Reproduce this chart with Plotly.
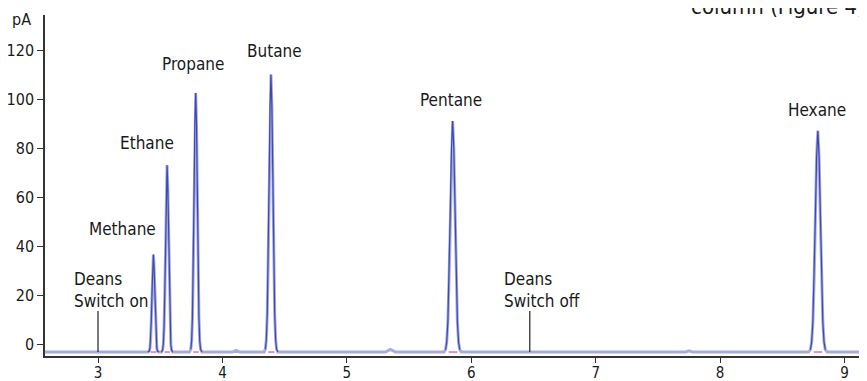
import plotly.graph_objects as go

# ---- data ----
time_min = [2.55,
            3.40, 3.412, 3.4175, 3.423, 3.4285, 3.434, 3.4395, 3.445, 3.4505, 3.456, 3.4615, 3.467, 3.4725, 3.478, 3.49,
            3.51, 3.519, 3.525, 3.531, 3.537, 3.543, 3.549, 3.555, 3.561, 3.567, 3.573, 3.579, 3.585, 3.591, 3.60,
            3.735, 3.746, 3.7525, 3.759, 3.7655, 3.772, 3.7785, 3.785, 3.7915, 3.798, 3.8045, 3.811, 3.8175, 3.824, 3.835,
            4.08, 4.11, 4.14,
            4.335, 4.345, 4.3525, 4.36, 4.3675, 4.375, 4.3825, 4.39, 4.3975, 4.405, 4.4125, 4.42, 4.4275, 4.435, 4.445,
            5.31, 5.35, 5.39,
            5.78, 5.793, 5.8025, 5.812, 5.8215, 5.831, 5.8405, 5.85, 5.8595, 5.869, 5.8785, 5.888, 5.8975, 5.907, 5.92,
            7.72, 7.75, 7.78,
            8.71, 8.725, 8.735, 8.745, 8.755, 8.765, 8.775, 8.785, 8.795, 8.805, 8.815, 8.825, 8.835, 8.845, 8.86,
            9.25]
signal_pA = [-3.3,
             -3.3, -2.9, -1.6, 2.1, 9.6, 21.0, 31.8, 36.5, 31.8, 21.0, 9.6, 2.1, -1.6, -2.9, -3.3,
             -3.3, -2.5, 0.0, 7.0, 21.5, 43.2, 64.0, 73, 64.0, 43.2, 21.5, 7.0, 0.0, -2.5, -3.3,
             -3.3, -2.1, 1.3, 11.0, 31.1, 61.2, 90.1, 102.5, 90.1, 61.2, 31.1, 11.0, 1.3, -2.1, -3.3,
             -3.3, -2.6, -3.3,
             -3.3, -2.1, 1.7, 12.0, 33.5, 65.8, 96.7, 110, 96.7, 65.8, 33.5, 12.0, 1.7, -2.1, -3.3,
             -3.3, -2.2, -3.3,
             -3.3, -2.3, 0.8, 9.4, 27.3, 54.2, 79.9, 91, 79.9, 54.2, 27.3, 9.4, 0.8, -2.3, -3.3,
             -3.3, -2.8, -3.3,
             -3.3, -2.3, 0.7, 8.9, 26.0, 51.8, 76.4, 87, 76.4, 51.8, 26.0, 8.9, 0.7, -2.3, -3.3,
             -3.3]

peak_names = ["Methane", "Ethane", "Propane", "Butane", "Pentane", "Hexane"]
label_x = [3.20, 3.39, 3.76, 4.42, 5.84, 8.78]
label_y = [46.9, 82.0, 114.3, 119.6, 99.6, 95.5]
peak_starts = [3.425, 3.535, 3.765, 4.368, 5.818, 8.752]
peak_ends = [3.468, 3.578, 3.81, 4.418, 5.888, 8.82]
baseline_pA = -3.3

switch_times = [3.0, 6.47]
switch_label_x = [2.79, 6.25]
switch_label_y = 22.0
switch_labels = ["Deans<br>Switch on", "Deans<br>Switch off"]
switch_marker_top = 13.5

x_ticks = [3, 4, 5, 6, 7, 8, 9]
y_ticks = [0, 20, 40, 60, 80, 100, 120]

FONT = "DejaVu Sans Condensed, Liberation Sans, sans-serif"

fig = go.Figure()

# light halo of the trace
fig.add_trace(go.Scatter(x=time_min, y=signal_pA, mode="lines",
                         line=dict(color="#a9abdf", width=3),
                         hoverinfo="skip", showlegend=False))

# darker core only on peaks
px, py = [], []
for s, e in zip(peak_starts, peak_ends):
    for t, v in zip(time_min, signal_pA):
        if s - 0.03 <= t <= e + 0.03:
            px.append(t)
            py.append(v)
    px.append(None)
    py.append(None)
fig.add_trace(go.Scatter(x=px, y=py, mode="lines",
                         line=dict(color="#3b49b0", width=1.2),
                         hoverinfo="skip", showlegend=False))

# pink integration baselines
ix, iy = [], []
for s, e in zip(peak_starts, peak_ends):
    ix += [s, e, None]
    iy += [baseline_pA, baseline_pA, None]
fig.add_trace(go.Scatter(x=ix, y=iy, mode="lines",
                         line=dict(color="#e98fb5", width=2),
                         hoverinfo="skip", showlegend=False))

# peak labels
for name, lx, ly in zip(peak_names, label_x, label_y):
    fig.add_annotation(x=lx, y=ly, text=name, showarrow=False,
                       xanchor="center", yanchor="middle",
                       font=dict(family=FONT, size=17, color="#1a1a1a"))

# Deans switch markers
for t, lx, lab in zip(switch_times, switch_label_x, switch_labels):
    fig.add_shape(type="line", x0=t, x1=t, y0=baseline_pA, y1=switch_marker_top,
                  line=dict(color="#222222", width=1.2))
    fig.add_annotation(x=lx, y=switch_label_y, text=lab, showarrow=False,
                       xanchor="left", yanchor="middle", align="left",
                       font=dict(family=FONT, size=17, color="#1a1a1a"))

# unit label
fig.add_annotation(x=0, xref="paper", xshift=-12, y=132.3, yref="y",
                   text="pA", showarrow=False, xanchor="right", yanchor="middle",
                   font=dict(family=FONT, size=16, color="#1a1a1a"))

# cut-off page text at top right
fig.add_annotation(x=1, xref="paper", xshift=0, y=1, yref="paper", yshift=-6,
                   text="column (Figure 4)", showarrow=False,
                   xanchor="right", yanchor="bottom",
                   font=dict(family=FONT, size=22, color="#1a1a1a"))

axis_common = dict(ticks="outside", tickwidth=1.2, tickcolor="#333",
                   showline=True, linecolor="#333", linewidth=1.5,
                   showgrid=False, zeroline=False, automargin=False)

# the page body has an 8px margin, so the figure is sized to fit the window
fig.update_layout(
    width=859, height=373,
    margin=dict(l=37, r=0, t=7, b=25),
    plot_bgcolor="white", paper_bgcolor="white",
    font=dict(family=FONT, size=16, color="#1a1a1a"),
    xaxis=dict(range=[2.574, 9.18], tickvals=x_ticks, ticklen=5,
               ticklabelstandoff=-3,
               tickfont=dict(family=FONT, size=15, color="#1a1a1a"),
               **axis_common),
    yaxis=dict(range=[-4.9, 134.3], tickvals=y_ticks, ticklen=6,
               tickfont=dict(family=FONT, size=16, color="#1a1a1a"),
               **axis_common),
)

fig.write_html("out.html")
